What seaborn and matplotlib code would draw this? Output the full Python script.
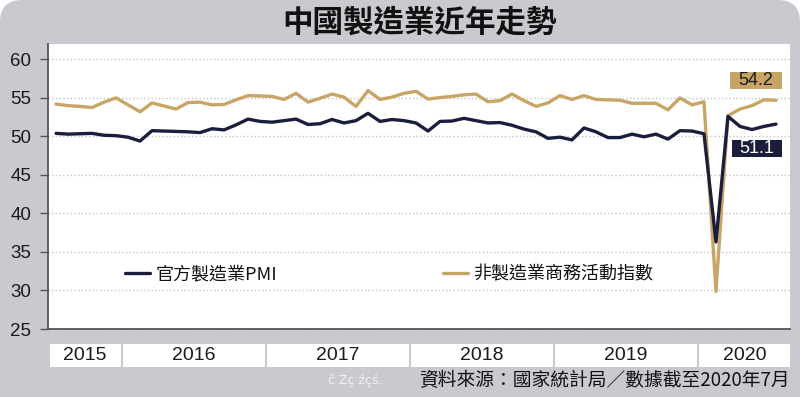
import pandas as pd
import matplotlib
matplotlib.use('Agg')
import matplotlib.pyplot as plt
import seaborn as sns
from matplotlib.lines import Line2D
from matplotlib.patches import FancyBboxPatch, Rectangle

# ---- 數據 (2015年7月 ~ 2020年7月, 按月) ----
months = pd.period_range('2015-07', '2020-07', freq='M')

pmi_name = '官方製造業PMI'
non_name = '非製造業商務活動指數'

pmi = [50.4, 50.3, 50.35, 50.4, 50.15, 50.1, 49.9, 49.4, 50.75, 50.7,
       50.65, 50.6, 50.5, 51.0, 50.85, 51.5, 52.25, 51.95, 51.85, 52.05,
       52.25, 51.55, 51.65, 52.2, 51.75, 52.05, 53.0, 51.95, 52.2, 52.05,
       51.75, 50.7, 51.95, 52.0, 52.35, 52.05, 51.75, 51.8, 51.45, 50.95,
       50.6, 49.75, 49.9, 49.55, 51.1, 50.6, 49.85, 49.85, 50.3, 49.95,
       50.3, 49.65, 50.75, 50.7, 50.35, 36.3, 52.6, 51.3, 50.9, 51.3,
       51.6]

non_mfg = [54.2, 54.0, 53.9, 53.75, 54.45, 55.0, 54.1, 53.2, 54.35, 53.95,
           53.55, 54.4, 54.45, 54.1, 54.15, 54.75, 55.3, 55.25, 55.2, 54.8,
           55.6, 54.45, 54.95, 55.5, 55.1, 53.9, 55.95, 54.8, 55.1, 55.6,
           55.85, 54.85, 55.05, 55.2, 55.4, 55.5, 54.5, 54.65, 55.5, 54.65,
           53.9, 54.35, 55.3, 54.8, 55.3, 54.8, 54.75, 54.7, 54.3, 54.3,
           54.3, 53.45, 55.0, 54.1, 54.5, 29.9, 52.7, 53.55, 54.0, 54.75,
           54.7]

latest_labels = ['54.2', '51.1']   # 圖中標示的最新值
y_ticks = [25, 30, 35, 40, 45, 50, 55, 60]

title = '中國製造業近年走勢'
source = '資料來源：國家統計局／數據截至2020年7月'

gold = '#c9a467'
navy = '#1b1d3d'
bg_grey = '#c9cacf'

sns.set_theme(style='white')
plt.rcParams['font.family'] = ['Noto Sans CJK TC', 'DejaVu Sans']
plt.rcParams['axes.unicode_minus'] = False

idx = list(range(len(months)))
df = pd.DataFrame({
    'idx': idx * 2,
    'value': non_mfg + pmi,
    'series': [non_name] * len(idx) + [pmi_name] * len(idx),
})

fig = plt.figure(figsize=(8, 3.97), dpi=100)
fig.patch.set_facecolor('white')
# 灰色圓角底板
bg = FancyBboxPatch((0, -0.5), 8, 3.97 + 0.5,
                    boxstyle='round,pad=0,rounding_size=0.22',
                    transform=fig.dpi_scale_trans,
                    facecolor=bg_grey, edgecolor='none', zorder=-10)
fig.add_artist(bg)

ax = fig.add_axes([48 / 800, 68 / 397, 742 / 800, 285 / 397])
ax.set_facecolor('white')

sns.lineplot(data=df, x='idx', y='value', hue='series',
             hue_order=[non_name, pmi_name], palette=[gold, navy],
             linewidth=2.4, legend=False, ax=ax)

xlim = (-0.67, len(months) - 1 + 1.17)
ax.set_xlim(*xlim)
ax.set_ylim(25, 62)
ax.set_xlabel('')
ax.set_ylabel('')

# 年份分界
years = sorted(set(m.year for m in months))
bounds = [i - 0.5 for i, m in enumerate(months) if m.month == 1]
ax.set_xticks(bounds)
ax.set_xticklabels([])
ax.tick_params(axis='x', direction='out', length=9, width=1.2, color='#333333')

ax.set_yticks(y_ticks)
ax.set_yticklabels([str(t) for t in y_ticks], fontsize=13.5,
                   family='Liberation Sans', color='#1a1a1a')
ax.tick_params(axis='y', direction='out', length=6, width=1, color='#555555', pad=6, left=True)

ax.yaxis.grid(True, linestyle=':', color='#c4c4c4', linewidth=1)
ax.set_axisbelow(True)
for s in ['top', 'right']:
    ax.spines[s].set_visible(False)
for s in ['left', 'bottom']:
    ax.spines[s].set_color('#555555')
    ax.spines[s].set_linewidth(1.3)

# 圖例
h_pmi = Line2D([], [], color=navy, lw=2.4)
h_non = Line2D([], [], color=gold, lw=2.4)
leg_kw = dict(loc='center left', frameon=False, handlelength=1.4, handletextpad=0.3,
              borderpad=0, borderaxespad=0, prop={'size': 13, 'weight': 'medium'})
leg1 = ax.legend([h_pmi], [pmi_name], bbox_to_anchor=(0.1038, 0.193), **leg_kw)
for t in leg1.get_texts():
    t.set_color('#111111')
ax.add_artist(leg1)
leg2 = ax.legend([h_non], [non_name], bbox_to_anchor=(0.532, 0.193), **leg_kw)
for t in leg2.get_texts():
    t.set_color('#111111')

# 最新值標籤
ax.add_patch(Rectangle((0.919, 0.842), 0.070, 0.060, transform=ax.transAxes,
                       facecolor=gold, edgecolor='none', zorder=5))
ax.text(0.954, 0.872, latest_labels[0], transform=ax.transAxes, ha='center', va='center',
        fontsize=13, family='Liberation Sans', color='#1a1a1a', zorder=6)
ax.add_patch(Rectangle((0.922, 0.6035), 0.067, 0.0595, transform=ax.transAxes,
                       facecolor=navy, edgecolor='none', zorder=5))
ax.text(0.9555, 0.633, latest_labels[1], transform=ax.transAxes, ha='center', va='center',
        fontsize=13, family='Liberation Sans', color='white', zorder=6)

# 年份條
band = fig.add_axes([48 / 800, 30 / 397, 742 / 800, 23 / 397])
band.set_xlim(*xlim)
band.set_ylim(0, 1)
band.axis('off')
edges = [xlim[0] + 0.15] + bounds + [xlim[1]]
for k, yr in enumerate(years):
    left = edges[k] + (0.12 if k > 0 else 0)
    right = edges[k + 1] - (0.12 if k < len(years) - 1 else 0)
    band.axvspan(left, right, color='white', lw=0)
    band.text((left + right) / 2, 0.5, str(yr), ha='center', va='center',
              fontsize=14, family='Liberation Sans', color='#1a1a1a')

# 標題及來源
fig.text(419.5 / 800, 1 - 23 / 397, title, ha='center', va='center',
         fontsize=22, fontweight='bold', color='#111111')
fig.text(790 / 800, 1 - 381 / 397, source, ha='right', va='center',
         fontsize=13.5, fontweight='medium', color='#111111')
fig.text(328 / 800, 1 - 380 / 397, 'č Żç źçś.', ha='left', va='center',
         fontsize=9, color='#f2f2f2', family='DejaVu Sans')

fig.savefig('out.png', dpi=100, facecolor=fig.get_facecolor())
